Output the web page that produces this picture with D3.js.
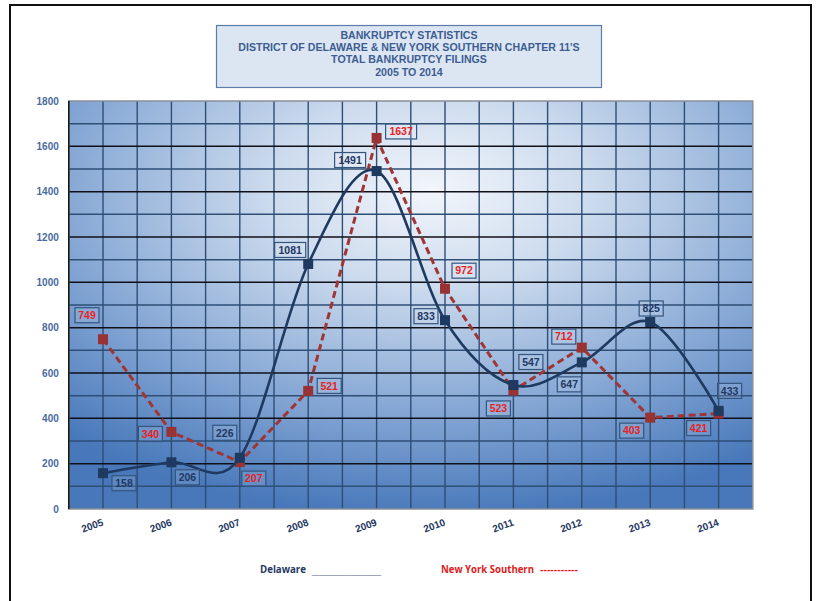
<!DOCTYPE html>
<html><head><meta charset="utf-8">
<script src="https://cdn.jsdelivr.net/npm/d3@7"></script>
<style>body{margin:0;background:#fff}svg{display:block}</style></head>
<body><svg id="c" width="818" height="601"></svg>
<script>
const years = ["2005","2006","2007","2008","2009","2010","2011","2012","2013","2014"];
const delaware = [158,206,226,1081,1491,833,547,647,825,433];
const nySouthern = [749,340,207,521,1637,972,523,712,403,421];
const yTicks = [0,200,400,600,800,1000,1200,1400,1600,1800];
const titleLines = ["BANKRUPTCY STATISTICS","DISTRICT OF DELAWARE & NEW YORK SOUTHERN CHAPTER 11'S","TOTAL BANKRUPTCY FILINGS","2005 TO 2014"];
const seriesNames = ["Delaware","New York Southern"];
// label placement offsets (layout only)
const delOff = [[21,10],[16,15],[-15,-25],[-18,-14],[-26.5,-11],[-19,-4],[17.5,-23],[-12.5,22],[1,-13.5],[11,-20]];
const nyOff = [[-16,-24],[-21,2],[14,16.5],[21,-5],[24.5,-6.5],[19,-18],[-15,18],[-18,-11],[-18.5,13],[-20,14.5]];

const svg = d3.select("#c");
const P = {l:68.8, r:752.8, t:101, b:509};
const x = d3.scaleBand().domain(years).range([P.l,P.r]).padding(0);
const cx = d => x(d)+x.bandwidth()/2;
const y = d3.scaleLinear().domain([0,1800]).range([P.b,P.t]);
const AR = "'Liberation Sans',Arial,sans-serif";

// outer border
svg.append("path").attr("d",`M10,605 L10,5 L811,5 L811,605`).attr("fill","none").attr("stroke","#111").attr("stroke-width",2);

// gradient
const defs = svg.append("defs");
const g = defs.append("radialGradient").attr("id","bg").attr("cx","0.53").attr("cy","0.22").attr("r","0.8");
g.append("stop").attr("offset","0").attr("stop-color","#f3f6fb");
g.append("stop").attr("offset","0.3").attr("stop-color","#cbdaed");
g.append("stop").attr("offset","0.68").attr("stop-color","#84a6d4");
g.append("stop").attr("offset","1").attr("stop-color","#4878ba");
svg.append("rect").attr("x",P.l).attr("y",P.t).attr("width",P.r-P.l).attr("height",P.b-P.t).attr("fill","url(#bg)");

// grid
const minor = d3.range(100,1800,200);
svg.append("g").selectAll("line").data(minor).join("line")
  .attr("x1",P.l).attr("x2",P.r).attr("y1",d=>y(d)).attr("y2",d=>y(d))
  .attr("stroke","#2e4e76").attr("stroke-width",1.5);
const vx = d3.range(1,20).map(i=>P.l+i*x.bandwidth()/2);
svg.append("g").selectAll("line").data(vx).join("line")
  .attr("x1",d=>d).attr("x2",d=>d).attr("y1",P.t).attr("y2",P.b)
  .attr("stroke","#2e4e76").attr("stroke-width",1.4);
svg.append("g").selectAll("line").data(yTicks.filter(d=>d>0&&d<1800)).join("line")
  .attr("x1",P.l).attr("x2",P.r).attr("y1",d=>y(d)).attr("y2",d=>y(d))
  .attr("stroke","#101018").attr("stroke-width",1.5);
svg.append("rect").attr("x",P.l).attr("y",P.t).attr("width",P.r-P.l).attr("height",P.b-P.t)
  .attr("fill","none").attr("stroke","#8a8f96").attr("stroke-width",1.5);
svg.append("line").attr("x1",P.l).attr("x2",P.l).attr("y1",P.t).attr("y2",P.b).attr("stroke","#111").attr("stroke-width",1.5);

// y axis labels
const yAxis = d3.axisLeft(y).tickValues(yTicks).tickSize(0).tickPadding(10).tickFormat(d3.format("d"));
const ya = svg.append("g").attr("transform",`translate(${P.l},0)`).call(yAxis);
ya.select(".domain").remove();
ya.selectAll("text").attr("font-family",AR).attr("font-weight","bold")
  .attr("font-size","10px").attr("fill","#4a6b9f");

// x axis labels
const xAxis = d3.axisBottom(x).tickSize(0).tickPadding(0);
const xa = svg.append("g").attr("transform",`translate(0,${P.b})`).call(xAxis);
xa.select(".domain").remove();
xa.selectAll("text").attr("font-family","'Liberation Sans Narrow','Liberation Sans',Arial,sans-serif")
  .attr("font-weight","bold").attr("font-size","10px").attr("fill","#1f3864")
  .attr("text-anchor","end").attr("dy",null).attr("y",0)
  .attr("transform","translate(1,16) rotate(-20)");

// lines
const nyLine = d3.line().x((d,i)=>cx(years[i])).y(d=>y(d));
svg.append("path").datum(nySouthern).attr("d",nyLine).attr("fill","none")
  .attr("stroke","#a03535").attr("stroke-width",3).attr("stroke-dasharray","7,4");
svg.append("g").selectAll("rect").data(nySouthern).join("rect")
  .attr("x",(d,i)=>cx(years[i])-5).attr("y",d=>y(d)-5).attr("width",10).attr("height",10).attr("fill","#993333");

const delLine = d3.line().x((d,i)=>cx(years[i])).y(d=>y(d)).curve(d3.curveCatmullRom.alpha(0));
svg.append("path").datum(delaware).attr("d",delLine).attr("fill","none")
  .attr("stroke","#1f3a60").attr("stroke-width",2.6);
svg.append("g").selectAll("rect").data(delaware).join("rect")
  .attr("x",(d,i)=>cx(years[i])-5).attr("y",d=>y(d)-5).attr("width",10).attr("height",10).attr("fill","#1f3a60");

// data labels
function labels(data, off, color){
  const gg = svg.append("g").selectAll("g").data(data).join("g")
    .attr("transform",(d,i)=>`translate(${cx(years[i])+off[i][0]},${y(d)+off[i][1]})`);
  gg.append("rect").attr("x",d=>String(d).length>3?-15.5:-12).attr("y",-7.5)
    .attr("width",d=>String(d).length>3?31:24).attr("height",15)
    .attr("fill","rgba(255,255,255,0.12)").attr("stroke","#34557f").attr("stroke-width",1.2);
  gg.append("text").text(d=>d).attr("text-anchor","middle").attr("dy","0.36em")
    .attr("font-family",AR).attr("font-weight","bold")
    .attr("font-size","10.5px").attr("fill",color);
}
labels(nySouthern, nyOff, "#e8231f");
labels(delaware, delOff, "#1f3864");

// title
svg.append("rect").attr("x",216.5).attr("y",25.5).attr("width",385).attr("height",62)
  .attr("fill","#dce6f2").attr("stroke","#5c7cab").attr("stroke-width",1.2);
svg.append("g").selectAll("text").data(titleLines).join("text")
  .attr("x",409).attr("y",(d,i)=>39+i*12.2).attr("text-anchor","middle")
  .attr("font-family",AR).attr("font-weight","bold")
  .attr("font-size","10.6px").attr("fill","#3d5d92").text(d=>d);

// legend
const lf = "'Open Sans','Liberation Sans',sans-serif";
svg.append("text").attr("x",260).attr("y",573).attr("font-family",lf).attr("font-weight","bold")
  .attr("font-size","10px").attr("fill","#1f3864").attr("textLength",46).attr("lengthAdjust","spacingAndGlyphs").text(seriesNames[0]);
svg.append("text").attr("x",312).attr("y",574).attr("font-family",AR).attr("font-weight","bold")
  .attr("font-size","10px").attr("fill","#1f3864").attr("textLength",69).attr("lengthAdjust","spacingAndGlyphs").text("____________");
svg.append("text").attr("x",441).attr("y",573).attr("font-family",lf).attr("font-weight","bold")
  .attr("font-size","10px").attr("fill","#e0201a").attr("textLength",93).attr("lengthAdjust","spacingAndGlyphs").text(seriesNames[1]);
svg.append("text").attr("x",540).attr("y",573).attr("font-family",AR).attr("font-weight","bold")
  .attr("font-size","10px").attr("fill","#e0201a").attr("textLength",38).attr("lengthAdjust","spacingAndGlyphs").text("-----------");
</script></body></html>
